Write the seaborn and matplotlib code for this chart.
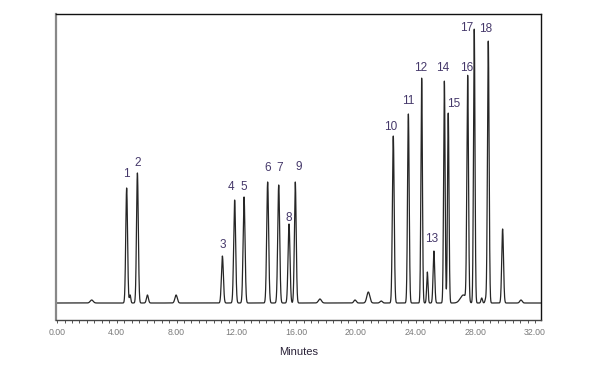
import numpy as np
import pandas as pd
import matplotlib
matplotlib.use("Agg")
import matplotlib.pyplot as plt
import seaborn as sns

# ---- data ----
peak_labels = ["1", "2", "3", "4", "5", "6", "7", "8", "9",
               "10", "11", "12", "13", "14", "15", "16", "17", "18"]
peak_times = [4.66, 5.38, 11.07, 11.89, 12.52, 14.10, 14.84, 15.53, 15.95,
              22.51, 23.52, 24.41, 25.23, 25.93, 26.19, 27.49, 27.93, 28.87]
peak_heights = [115, 130, 47, 103, 106, 121, 118, 79, 121,
                167, 189, 225, 52, 222, 190, 225, 274, 262]
peak_sigma = [0.06, 0.06, 0.065, 0.065, 0.065, 0.065, 0.065, 0.065, 0.06,
              0.06, 0.055, 0.05, 0.055, 0.05, 0.05, 0.055, 0.05, 0.055]

# unlabelled minor peaks / baseline features
minor_times = [2.32, 4.89, 6.05, 7.97, 17.60, 19.95, 20.84, 21.70,
               24.79, 27.20, 28.43, 28.70, 29.83, 31.06]
minor_heights = [3, 8, 8, 8, 4, 3, 11, 2,
                 31, 8, 5, 4, 74, 3]
minor_sigma = [0.10, 0.045, 0.065, 0.08, 0.10, 0.08, 0.10, 0.08,
               0.045, 0.20, 0.05, 0.05, 0.06, 0.08]

# ---- build the trace ----
t = np.arange(0.0, 32.42, 0.004)
signal = np.zeros_like(t)
for mu, h, s in zip(peak_times + minor_times, peak_heights + minor_heights,
                    peak_sigma + minor_sigma):
    signal += h * np.exp(-0.5 * ((t - mu) / s) ** 2)
df = pd.DataFrame({"Minutes": t, "Signal": signal})

# ---- layout: label offsets (pixels: dx, dy above apex) ----
label_dx = [0, 0, 0, -4, 0, 0, 1, 0, 3, -3, 0, -1, -2, -2, 5, -1, -8, -3]
label_dy = [14, 10, 11, 13, 10, 14, 17, 6, 15, 9, 13, 10, 12, 13, 9, 10, 1, 12]

sns.set_theme(style="white")
plt.rcParams["font.family"] = ["Liberation Sans", "DejaVu Sans"]

fig = plt.figure(figsize=(6.0, 3.71), dpi=100)
ax = fig.add_axes([56 / 600, 1 - 320 / 371, (541 - 56) / 600, (320 - 14) / 371])

sns.lineplot(data=df, x="Minutes", y="Signal", ax=ax, color="#262626",
             linewidth=0.9, estimator=None, sort=False)

ax.set_xlim(-0.07, 32.4)
ax.set_ylim(-17, 289)

for lab, mu, h, dx, dy in zip(peak_labels, peak_times, peak_heights, label_dx, label_dy):
    ax.annotate(lab, xy=(mu, h), xytext=(dx * 0.72, dy * 0.72),
                textcoords="offset points", ha="center", va="center",
                fontsize=8.5, color="#45386a")

ax.set_xticks(np.arange(0, 32.01, 4))
ax.set_xticklabels([f"{v:.2f}" for v in np.arange(0, 32.01, 4)])
ax.set_xticks(np.arange(0, 32.41, 0.5), minor=True)
ax.set_yticks([])
ax.tick_params(axis="x", which="both", direction="out", bottom=True,
               length=2.5, width=0.7, colors="#555555", labelsize=6.3,
               labelcolor="#7a7a7a", pad=3)

ax.set_xlabel("Minutes", fontsize=8, color="#2a2238", labelpad=7.5)
ax.set_ylabel("")

for side in ["top", "right"]:
    ax.spines[side].set_color("#111111")
    ax.spines[side].set_linewidth(1.0)
ax.spines["bottom"].set_color("#444444")
ax.spines["bottom"].set_linewidth(1.0)
ax.spines["left"].set_color("#888888")
ax.spines["left"].set_linewidth(1.6)

fig.savefig("out.png", dpi=100)
